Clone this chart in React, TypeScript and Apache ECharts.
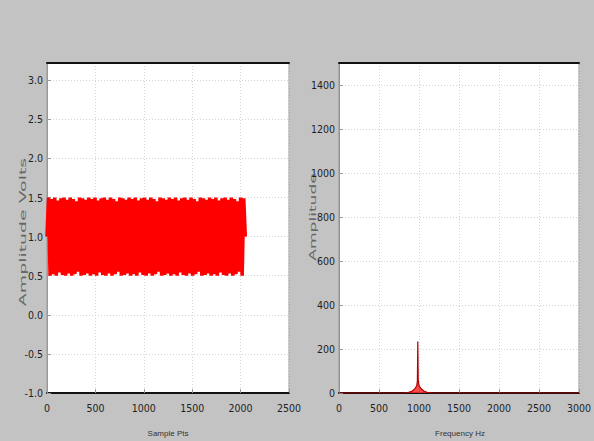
import React, { useEffect, useRef } from "react";
import * as echarts from "echarts";

// Left panel: time signal (sample index step between listed extrema)
const signalStep = 16;
const signalValues = [
  1.0, 1.5, 0.5, 1.48, 0.52, 1.5, 0.5, 1.46, 0.54, 1.49, 0.51, 1.5, 0.5, 1.47, 0.53, 1.5,
  0.5, 1.48, 0.52, 1.45, 0.55, 1.5, 0.5, 1.49, 0.51, 1.47, 0.53, 1.5, 0.5, 1.48, 0.52, 1.5,
  0.5, 1.46, 0.54, 1.49, 0.51, 1.5, 0.5, 1.47, 0.53, 1.5, 0.5, 1.48, 0.52, 1.45, 0.55, 1.5,
  0.5, 1.49, 0.51, 1.47, 0.53, 1.5, 0.5, 1.48, 0.52, 1.5, 0.5, 1.46, 0.54, 1.49, 0.51, 1.5,
  0.5, 1.47, 0.53, 1.5, 0.5, 1.48, 0.52, 1.45, 0.55, 1.5, 0.5, 1.49, 0.51, 1.47, 0.53, 1.5,
  0.5, 1.48, 0.52, 1.5, 0.5, 1.46, 0.54, 1.49, 0.51, 1.5, 0.5, 1.47, 0.53, 1.5, 0.5, 1.48,
  0.52, 1.45, 0.55, 1.5, 0.5, 1.49, 0.51, 1.47, 0.53, 1.5, 0.5, 1.48, 0.52, 1.5, 0.5, 1.46,
  0.54, 1.49, 0.51, 1.5, 0.5, 1.47, 0.53, 1.5, 0.5, 1.48, 0.52, 1.45, 0.55, 1.5, 0.5, 1.49,
  1.0,
];

// Right panel: magnitude spectrum
const fftFreq = [0, 820, 870, 910, 940, 960, 972, 980, 985, 990, 998, 1010, 1030, 1060, 1100, 1150, 3000];
const fftMag = [0, 0, 3, 8, 16, 26, 34, 55, 234, 60, 36, 28, 18, 9, 3, 0, 0];

const leftX = { min: 0, max: 2500, interval: 500 };
const leftY = { min: -1, max: 3.22, interval: 0.5 };
const rightX = { min: 0, max: 3000, interval: 500 };
const rightY = { min: 0, max: 1500, interval: 200 };

const leftXTitle = "Sample Pts";
const leftYTitle = "Amplitude Volts";
const rightXTitle = "Frequency Hz";
const rightYTitle = "Amplitude";

const labelFont = {
  color: "#222",
  fontSize: 10.5,
  fontFamily: "'Liberation Sans Narrow', 'DejaVu Sans Condensed', sans-serif",
};

const plain = (v: number) => String(v);

function valueAxis(grid: number, range: any, extra: any = {}) {
  return {
    type: "value",
    gridIndex: grid,
    min: range.min,
    max: range.max,
    interval: range.interval,
    axisLine: { show: true, onZero: false, lineStyle: { color: "#111", width: 2 } },
    axisTick: { show: true, inside: true, length: 4, lineStyle: { color: "#999" } },
    splitLine: { show: true, lineStyle: { color: "#d4d4d4", type: [1, 2] } },
    axisLabel: { ...labelFont, margin: 6, showMaxLabel: false, formatter: plain },
    ...extra,
  };
}

function topAxis(grid: number, range: any) {
  return {
    type: "value",
    gridIndex: grid,
    position: "top",
    min: range.min,
    max: range.max,
    interval: range.interval,
    axisLine: { show: true, onZero: false, lineStyle: { color: "#111", width: 2 } },
    axisTick: { show: false },
    axisLabel: { show: false },
    splitLine: { show: false },
  };
}

function titleText(text: string, x: number, y: number, font: string, fill: string, rotated: boolean, stretch: number) {
  return {
    type: "text",
    x,
    y,
    rotation: rotated ? Math.PI / 2 : 0,
    scaleX: stretch,
    style: {
      text,
      font,
      fill,
      align: "center",
      verticalAlign: "middle",
      textAlign: "center",
      textVerticalAlign: "middle",
    },
  };
}

export default function App() {
  const ref = useRef<HTMLDivElement>(null);
  useEffect(() => {
    if (!ref.current) return;
    const chart = echarts.init(ref.current, undefined, { renderer: "svg" });
    const signalData = signalValues.map((v, i) => [i * signalStep, v]);
    const fftData = fftFreq.map((f, i) => [f, fftMag[i]]);
    chart.setOption({
      animation: false,
      backgroundColor: "#c3c3c3",
      grid: [
        { left: 47, right: 305, top: 63, bottom: 48, show: true, backgroundColor: "#fff", borderColor: "#999", borderWidth: 1 },
        { left: 339, right: 14, top: 63, bottom: 48, show: true, backgroundColor: "#fff", borderColor: "#999", borderWidth: 1 },
      ],
      xAxis: [
        valueAxis(0, leftX, { axisLabel: { ...labelFont, margin: 9, showMaxLabel: true, formatter: plain } }),
        valueAxis(1, rightX, { axisLabel: { ...labelFont, margin: 9, showMaxLabel: true, formatter: plain } }),
        topAxis(0, leftX),
        topAxis(1, rightX),
      ],
      yAxis: [
        valueAxis(0, leftY, {
          axisLine: { show: true, onZero: false, lineStyle: { color: "#999", width: 1 } },
          axisLabel: { ...labelFont, margin: 4, showMaxLabel: false, formatter: (v: number) => v.toFixed(1) },
        }),
        valueAxis(1, rightY, {
          axisLine: { show: true, onZero: false, lineStyle: { color: "#a08888", width: 1 } },
          axisLabel: { ...labelFont, margin: 4, showMaxLabel: false, formatter: plain },
        }),
      ],
      series: [
        {
          type: "line",
          xAxisIndex: 0,
          yAxisIndex: 0,
          data: signalData,
          showSymbol: false,
          lineStyle: { color: "#ff0000", width: 3.6 },
          itemStyle: { color: "#ff0000" },
        },
        {
          type: "line",
          xAxisIndex: 1,
          yAxisIndex: 1,
          data: fftData,
          showSymbol: false,
          lineStyle: { color: "#b00000", width: 1.2 },
          itemStyle: { color: "#b00000" },
          areaStyle: { color: "#ff2a2a", opacity: 0.85 },
        },
      ],
      graphic: [
        titleText(leftYTitle, 23, 232, "9px 'DejaVu Sans', sans-serif", "#666", true, 2.1),
        titleText(rightYTitle, 313, 217, "9px 'DejaVu Sans', sans-serif", "#666", true, 1.9),
        titleText(leftXTitle, 168, 433, "8px 'Liberation Sans Narrow', sans-serif", "#333", false, 1),
        titleText(rightXTitle, 460, 433, "8px 'Liberation Sans Narrow', sans-serif", "#333", false, 1),
      ],
    });
    return () => chart.dispose();
  }, []);
  return <div ref={ref} style={{ position: "fixed", left: 0, top: 0, width: 594, height: 441 }} />;
}
